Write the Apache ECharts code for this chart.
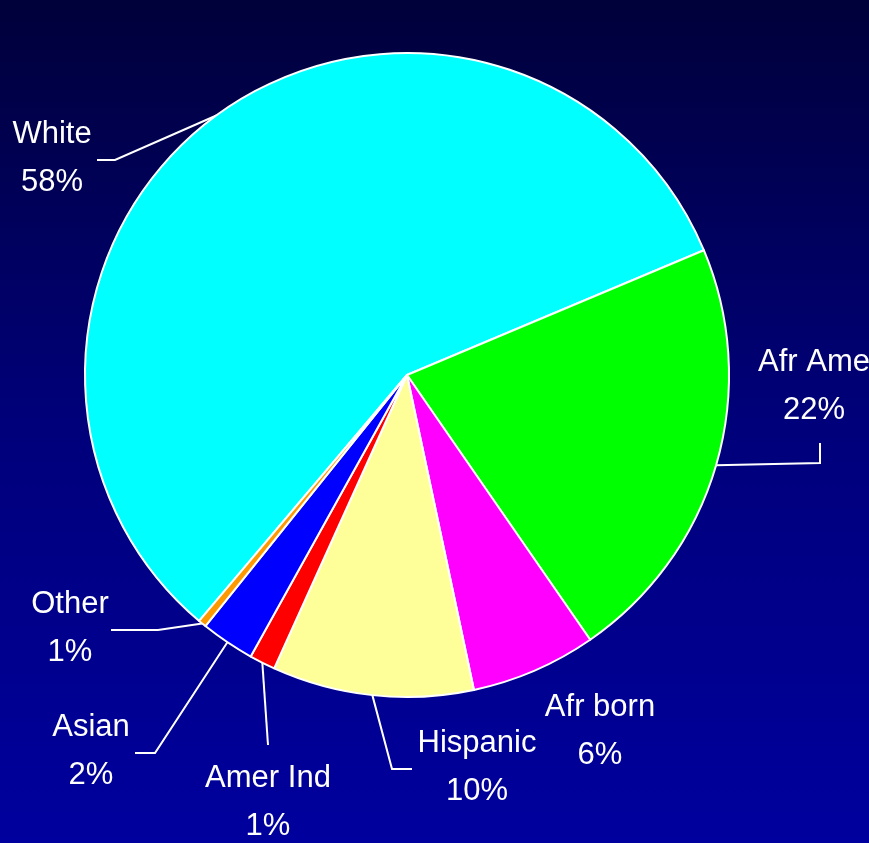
<!DOCTYPE html>
<html>
<head>
<meta charset="utf-8">
<script src="https://cdn.jsdelivr.net/npm/echarts@6/dist/echarts.min.js"></script>
<style>
html,body{margin:0;padding:0;width:869px;height:843px;overflow:hidden;}
#c{width:869px;height:843px;}
</style>
</head>
<body>
<div id="c"></div>
<script>
// ---- data ----
var categories = ['White', 'Afr Ame', 'Afr born', 'Hispanic', 'Amer Ind', 'Asian', 'Other'];
var values = [57.5, 21.7, 6.3, 10.1, 1.3, 2.7, 0.4];
var pctLabels = ['58%', '22%', '6%', '10%', '1%', '2%', '1%'];

// ---- styles ----
var colors = ['#00FFFF', '#00FF00', '#FF00FF', '#FFFF99', '#FF0000', '#0000FF', '#FF9900'];
// label centres and leader-line bend points (pixels)
var labelPos = [
  {x: 52, y: 158, line: [[115, 160], [97, 160]]},
  {x: 814, y: 386, line: [[820, 463], [820, 443]]},
  {x: 600, y: 731, line: null},
  {x: 477, y: 767, line: [[392, 769], [412, 769]]},
  {x: 268, y: 802, line: [[268, 745]]},
  {x: 91, y: 751, line: [[155, 753], [135, 753]]},
  {x: 70, y: 628, line: [[158, 630], [111, 630]]}
];

var chart = echarts.init(document.getElementById('c'), null, {renderer: 'canvas'});
var data = categories.map(function (n, i) {
  return {
    name: n,
    value: values[i],
    itemStyle: {color: colors[i]},
    labelLine: {show: labelPos[i].line !== null}
  };
});

chart.setOption({
  backgroundColor: {
    type: 'linear', x: 0, y: 0, x2: 0, y2: 1,
    colorStops: [{offset: 0, color: '#00003a'}, {offset: 0.5, color: '#00007a'}, {offset: 1, color: '#00009e'}]
  },
  animation: false,
  series: [{
    type: 'pie',
    center: [407, 375],
    radius: 322,
    startAngle: 229.8,
    clockwise: true,
    avoidLabelOverlap: false,
    data: data,
    itemStyle: {borderColor: '#ffffff', borderWidth: 2},
    label: {
      show: true,
      position: 'outside',
      color: '#ffffff',
      fontFamily: '"Liberation Sans Narrow", "Arial Narrow", "Liberation Sans", Arial, sans-serif',
      fontSize: 31,
      lineHeight: 48,
      align: 'center',
      formatter: function (p) { return p.name + '\n' + pctLabels[p.dataIndex]; }
    },
    labelLine: {show: true, lineStyle: {color: '#ffffff', width: 2}, length: 20, length2: 20},
    labelLayout: function (params) {
      var lp = labelPos[params.dataIndex];
      var out = {x: lp.x, y: lp.y, align: 'center', verticalAlign: 'middle'};
      if (lp.line && params.labelLinePoints) {
        var start = params.labelLinePoints[0];
        var pts = [start].concat(lp.line);
        if (pts.length === 2) pts.push(lp.line[0]);
        out.labelLinePoints = pts;
      }
      return out;
    }
  }]
});
</script>
</body>
</html>
